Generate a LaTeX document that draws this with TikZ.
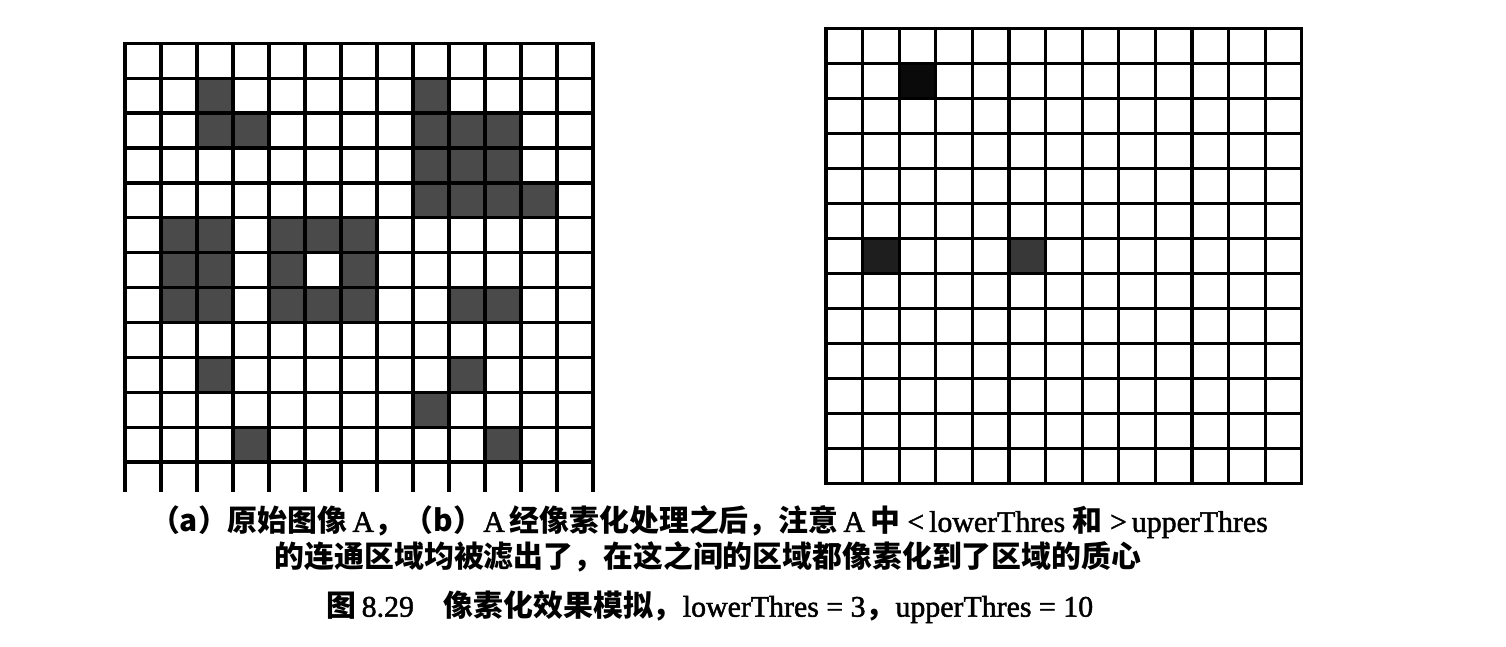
\documentclass[tikz,border=0pt]{standalone}
\usepackage{fontspec}
\setmainfont[FakeBold=1.6]{Liberation Serif}
\newfontfamily\zhfont{Noto Sans CJK SC}
\usetikzlibrary{positioning}
\definecolor{pixgray}{HTML}{4A4A4A}
\definecolor{pixblack}{HTML}{0A0A0A}
\definecolor{pixdark}{HTML}{1E1E1E}
\definecolor{pixcentre}{HTML}{383838}
\newcommand{\zh}[1]{{\zhfont\bfseries #1}}
\tikzset{
  pxline/.style={line width=1.9pt, black, line cap=rect},
  pxon/.style={fill=pixgray},
  capline/.style={font=\fontsize{17}{20}\selectfont, inner sep=0pt,
    anchor=center},
}

\begin{document}
\begin{tikzpicture}[x=1cm, y=1cm]
\useasboundingbox (0,0) rectangle (30.12,-12.92);

%% ── (a) original image A ─────────────────────────────────────────────────
\begin{scope}[shift={(2.5,-0.866)}, x=0.72cm, y=-0.698cm]
  \foreach \c/\r in {2/1, 8/1, 2/2, 3/2, 8/2, 9/2, 10/2, 8/3, 9/3, 10/3,
      8/4, 9/4, 10/4, 11/4, 1/5, 2/5, 4/5, 5/5, 6/5, 1/6, 2/6, 4/6, 6/6,
      1/7, 2/7, 4/7, 5/7, 6/7, 9/7, 10/7, 2/9, 9/9, 8/10, 3/11, 10/11}
    \fill[pxon] (\c,\r) rectangle ++(1,1);
  \foreach \i in {0,...,13}
    \draw[pxline, line cap=butt] (\i,0) -- (\i,12.85);
  \foreach \j in {0,...,12}
    \draw[pxline] (0,\j) -- (13,\j);
\end{scope}

%% ── (b) A after pixelisation ─────────────────────────────────────────────
\begin{scope}[shift={(16.52,-0.566)}, x=0.732cm, y=-0.700cm]
  \fill[pixblack]  (2,1) rectangle ++(1,1);
  \fill[pixdark]   (1,6) rectangle ++(1,1);
  \fill[pixcentre] (5,6) rectangle ++(1,1);
  \foreach \i in {0,...,13}
    \draw[pxline] (\i,0) -- (\i,13);
  \foreach \j in {0,...,13}
    \draw[pxline] (0,\j) -- (13,\j);
\end{scope}

%% ── captions ─────────────────────────────────────────────────────────────
\node[capline] (capa) at (14.18,-10.44)
  {\zh{（a）原始图像}\,A\zh{，（b）}A\,\zh{经像素化处理之后，注意}\,A\,\zh{中}\
   <\,lowerThres\ \zh{和}\ >\,upperThres};
\node[capline] (capb) at (14.16,-11.14)
  {\zh{的连通区域均被滤出了，在这之间的区域都像素化到了区域的质心}};
\node[capline] (figno) at (14.2,-12.14)
  {\zh{图}\,8.29\quad\zh{像素化效果模拟，}lowerThres = 3\zh{，}upperThres = 10};

\end{tikzpicture}
\end{document}
